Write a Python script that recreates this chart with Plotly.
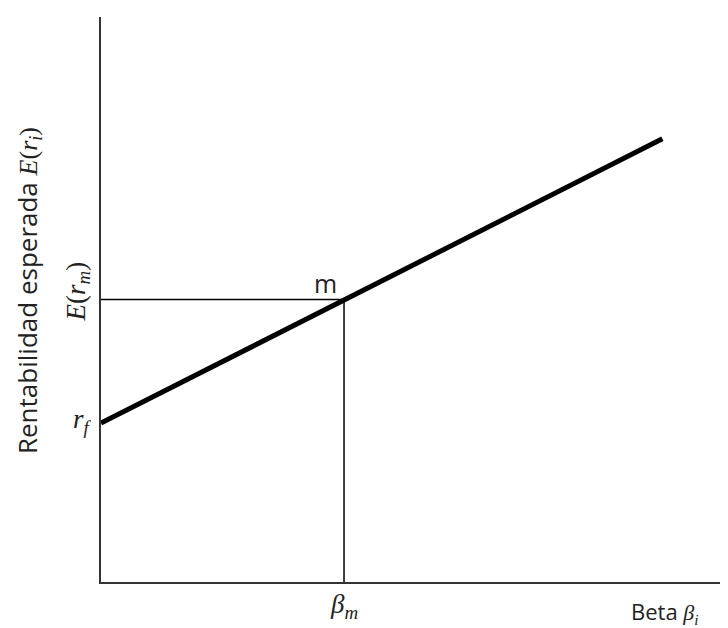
import plotly.graph_objects as go

# Data (conceptual units)
sml_beta = [0.0, 2.31]
sml_return = [4.5, 12.55]
beta_m = 1.0
rf = 4.5
e_rm = 8.0
x_max = 2.58
y_max = 16.0

fig = go.Figure()
# guide lines to market point
fig.add_trace(go.Scatter(x=[0, beta_m, beta_m], y=[e_rm, e_rm, 0], mode="lines",
                         line=dict(color="black", width=1.5), hoverinfo="skip", showlegend=False))
# security market line
fig.add_trace(go.Scatter(x=sml_beta, y=sml_return, mode="lines",
                         line=dict(color="black", width=5), hoverinfo="skip", showlegend=False))

serif = "Liberation Serif, DejaVu Serif, serif"
sans = "Open Sans, DejaVu Sans, sans-serif"
col = "#222"

ann = []
ann.append(dict(x=beta_m, y=e_rm, xref="x", yref="y", text="m", showarrow=False,
                xanchor="center", yanchor="middle", xshift=-19, yshift=17,
                font=dict(family=sans, size=25, color=col)))
ann.append(dict(x=0, y=e_rm, xref="x", yref="y", text="<i>E</i>(<i>r<sub>m</sub></i>)",
                showarrow=False, textangle=-90, xanchor="center", yanchor="middle",
                xshift=-24, yshift=8, font=dict(family=serif, size=27, color=col)))
ann.append(dict(x=0, y=rf, xref="x", yref="y", text="<i>r<sub>f</sub></i>",
                showarrow=False, xanchor="center", yanchor="middle", xshift=-19, yshift=2,
                font=dict(family=serif, size=27, color=col)))
ann.append(dict(x=beta_m, y=0, xref="x", yref="y", text="<i>β<sub>m</sub></i>",
                showarrow=False, xanchor="center", yanchor="middle", yshift=-24,
                font=dict(family=serif, size=27, color=col)))
ann.append(dict(x=2.32, y=0, xref="x", yref="paper",
                text="Beta <i><span style='font-family:Liberation Serif'>β<sub>i</sub></span></i>",
                showarrow=False, xanchor="center", yanchor="middle", yshift=-30,
                font=dict(family=sans, size=22, color=col)))
ann.append(dict(x=0, y=0.515, xref="paper", yref="paper",
                text="Rentabilidad esperada <i><span style='font-family:Liberation Serif'>E</span></i><span style='font-family:Liberation Serif'>(<i>r<sub>i</sub></i>)</span>",
                showarrow=False, textangle=-90, xanchor="center", yanchor="middle",
                xshift=-74, font=dict(family=sans, size=26, color=col)))

fig.update_layout(
    width=720, height=620,
    margin=dict(l=93, r=0, t=9, b=46),
    paper_bgcolor="white", plot_bgcolor="white",
    annotations=ann,
    xaxis=dict(range=[0, x_max], showgrid=False, zeroline=False, showticklabels=False,
               ticks="", showline=True, linecolor="#333", linewidth=2, fixedrange=True),
    yaxis=dict(range=[0, y_max], showgrid=False, zeroline=False, showticklabels=False,
               ticks="", showline=True, linecolor="#333", linewidth=2, fixedrange=True),
)

fig.write_html("out.html")
